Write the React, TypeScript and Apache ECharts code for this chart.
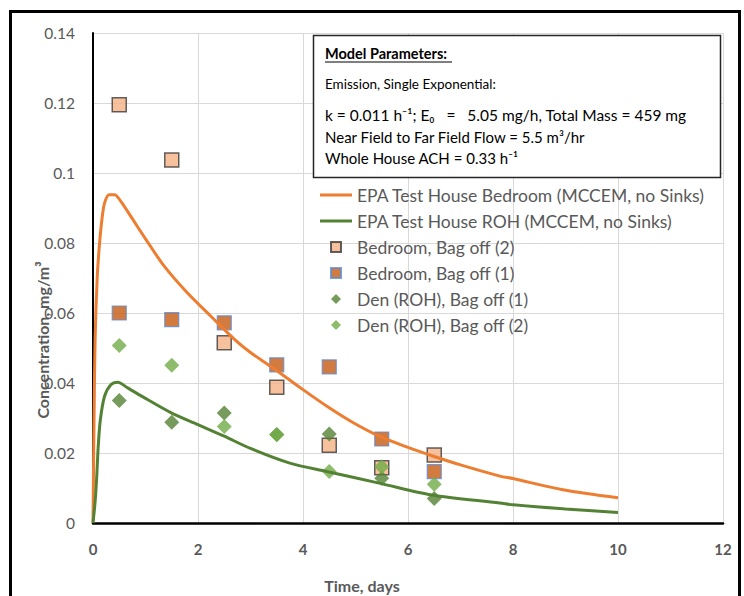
import React, { useEffect, useRef } from "react";
import * as echarts from "echarts";

const sampleDays = [0.5, 1.5, 2.5, 3.5, 4.5, 5.5, 6.5];
const bedroomBag2 = [0.1195, 0.1037, 0.0515, 0.0388, 0.0222, 0.0158, 0.0194];
const bedroomBag1 = [0.06, 0.0581, 0.0572, 0.0452, 0.0446, 0.024, 0.0147];
const denBag1 = [0.035, 0.0288, 0.0314, 0.0253, 0.0254, 0.0128, 0.007];
const denBag2 = [0.0507, 0.0451, 0.0276, 0.0252, 0.0147, 0.0161, 0.0111];

const bedroomModelT = [0, 0.02, 0.04, 0.08, 0.12, 0.17, 0.22, 0.31, 0.41, 0.53, 0.72, 1.0, 1.36, 1.8, 2.25, 2.7, 3.0, 3.43, 4.0, 4.5, 4.95, 5.45, 6.0, 6.5, 7.0, 7.75, 8.0, 8.95, 10];
const bedroomModelV = [0, 0.03, 0.0524, 0.07, 0.079, 0.0867, 0.0914, 0.0938, 0.0938, 0.0919, 0.0876, 0.0812, 0.0733, 0.0657, 0.059, 0.0524, 0.0487, 0.0443, 0.0381, 0.0329, 0.0287, 0.0248, 0.0216, 0.019, 0.0166, 0.0134, 0.0127, 0.0095, 0.0072];
const rohModelT = [0, 0.04, 0.07, 0.1, 0.14, 0.22, 0.34, 0.47, 0.66, 1.0, 1.5, 2.0, 2.5, 3.0, 3.75, 4.45, 5.45, 6.45, 7.75, 8.0, 9.0, 10];
const rohModelV = [0, 0.006, 0.013, 0.022, 0.0295, 0.0362, 0.0395, 0.0402, 0.0386, 0.0356, 0.0314, 0.0281, 0.0248, 0.0213, 0.0171, 0.0147, 0.0114, 0.008, 0.0057, 0.0052, 0.004, 0.003];

const xTicks = { min: 0, max: 12, interval: 2 };
const yTicks = { min: 0, max: 0.14, interval: 0.02 };

const seriesNames = [
  "EPA Test House Bedroom (MCCEM, no Sinks)",
  "EPA Test House ROH (MCCEM, no Sinks)",
  "Bedroom, Bag off (2)",
  "Bedroom, Bag off (1)",
  "Den (ROH), Bag off (1)",
  "Den (ROH), Bag off (2)",
];

const FONT = "Lato, 'Noto Sans', sans-serif";
const GRAY = "#595959";

const zip = (a: number[], b: number[]) => a.map((v, i) => [v, b[i]]);

export default function App() {
  const ref = useRef<HTMLDivElement>(null);
  useEffect(() => {
    document.body.style.margin = "0";
    if (!ref.current) return;
    const chart = echarts.init(ref.current, null, { renderer: "svg" });
    const squareIcon = "path://M0,0L10,0L10,10L0,10Z";
    const diamondIcon = "path://M5,0L10,5L5,10L0,5Z";
    const lineIcon = "path://M0,0L32,0L32,3L0,3Z";
    chart.setOption({
      animation: false,
      backgroundColor: "#ffffff",
      textStyle: { fontFamily: FONT },
      grid: { left: 93, top: 33, width: 630, height: 490, containLabel: false },
      xAxis: {
        type: "value",
        min: xTicks.min,
        max: xTicks.max,
        interval: xTicks.interval,
        axisLine: { show: true, lineStyle: { color: "#000", width: 2.5 } },
        axisTick: { show: false },
        axisLabel: { color: GRAY, fontSize: 15, fontWeight: "bold", margin: 18, fontFamily: FONT },
        splitLine: { show: true, lineStyle: { color: "#d9d9d9", width: 1 } },
      },
      yAxis: {
        type: "value",
        min: yTicks.min,
        max: yTicks.max,
        interval: yTicks.interval,
        axisLine: { show: true, onZero: false, lineStyle: { color: "#000", width: 2 } },
        axisTick: { show: false },
        axisLabel: { color: GRAY, fontSize: 15.5, margin: 18, fontFamily: FONT },
        splitLine: { show: true, lineStyle: { color: "#d9d9d9", width: 1 } },
      },
      legend: {
        orient: "vertical",
        left: 320,
        top: 186,
        padding: 0,
        itemWidth: 32,
        itemHeight: 10,
        itemGap: 8,
        textStyle: { color: GRAY, fontSize: 17.5, fontFamily: FONT, lineHeight: 18 },
        data: [
          { name: seriesNames[0], icon: lineIcon },
          { name: seriesNames[1], icon: lineIcon },
          { name: seriesNames[2], icon: squareIcon },
          { name: seriesNames[3], icon: squareIcon },
          { name: seriesNames[4], icon: diamondIcon },
          { name: seriesNames[5], icon: diamondIcon },
        ],
      },
      series: [
        {
          name: seriesNames[0],
          type: "line",
          data: zip(bedroomModelT, bedroomModelV),
          showSymbol: false,
          symbol: "none",
          smooth: 0.3,
          lineStyle: { color: "#ED7D31", width: 3 },
          itemStyle: { color: "#ED7D31" },
        },
        {
          name: seriesNames[1],
          type: "line",
          data: zip(rohModelT, rohModelV),
          showSymbol: false,
          symbol: "none",
          smooth: 0.3,
          lineStyle: { color: "#548235", width: 3 },
          itemStyle: { color: "#548235" },
        },
        {
          name: seriesNames[2],
          type: "scatter",
          data: zip(sampleDays, bedroomBag2),
          symbol: "rect",
          symbolSize: 14,
          itemStyle: { color: "#F4B183", borderColor: "#3a3a3a", borderWidth: 1.5 },
        },
        {
          name: seriesNames[3],
          type: "scatter",
          data: zip(sampleDays, bedroomBag1),
          symbol: "rect",
          symbolSize: 14,
          itemStyle: { color: "#C55A11", borderColor: "#5B8BD6", borderWidth: 1.2 },
        },
        {
          name: seriesNames[4],
          type: "scatter",
          data: zip(sampleDays, denBag1),
          symbol: "diamond",
          symbolSize: 15,
          itemStyle: { color: "#548235" },
        },
        {
          name: seriesNames[5],
          type: "scatter",
          data: zip(sampleDays, denBag2),
          symbol: "diamond",
          symbolSize: 15,
          itemStyle: { color: "#70AD47" },
        },
      ],
      graphic: [
        {
          type: "rect",
          z: 100,
          shape: { x: 10.5, y: 11.5, width: 729, height: 600 },
          style: { fill: "none", stroke: "#000", lineWidth: 3 },
          silent: true,
        },
        {
          type: "group",
          z: 100,
          children: [
            {
              type: "rect",
              z: 100,
              shape: { x: 313.5, y: 35.5, width: 407, height: 142 },
              style: { fill: "#ffffff", stroke: "#262626", lineWidth: 1.5 },
            },
            {
              type: "text",
              z: 101,
              x: 325,
              y: 53,
              style: { text: "Model Parameters:", fill: "#000", font: `bold 14.5px ${FONT}`, verticalAlign: "middle" },
            },
            {
              type: "line",
              z: 101,
              shape: { x1: 325, y1: 62, x2: 452, y2: 62 },
              style: { stroke: "#000", lineWidth: 1 },
            },
            {
              type: "text",
              z: 101,
              x: 325,
              y: 84,
              style: { text: "Emission, Single Exponential:", fill: "#000", font: `13.5px ${FONT}`, verticalAlign: "middle" },
            },
            {
              type: "text",
              z: 101,
              x: 325,
              y: 115,
              style: { text: "k = 0.011 h\u207B\u00B9; E\u2080   =   5.05 mg/h, Total Mass = 459 mg", fill: "#000", font: `15.5px ${FONT}`, verticalAlign: "middle" },
            },
            {
              type: "text",
              z: 101,
              x: 325,
              y: 137,
              style: { text: "Near Field to Far Field Flow = 5.5 m\u00B3/hr", fill: "#000", font: `15px ${FONT}`, verticalAlign: "middle" },
            },
            {
              type: "text",
              z: 101,
              x: 325,
              y: 158,
              style: { text: "Whole House ACH = 0.33 h\u207B\u00B9", fill: "#000", font: `15px ${FONT}`, verticalAlign: "middle" },
            },
          ],
        },
        {
          type: "text",
          x: 42,
          y: 340,
          rotation: Math.PI / 2,
          style: { text: "Concentration, mg/m\u00B3", fill: GRAY, font: `bold 16px ${FONT}`, align: "center", verticalAlign: "middle" },
        },
        {
          type: "text",
          x: 362,
          y: 585,
          style: { text: "Time, days", fill: GRAY, font: `bold 16px ${FONT}`, align: "center", verticalAlign: "middle" },
        },
      ],
    });
    return () => chart.dispose();
  }, []);
  return <div ref={ref} style={{ width: 744, height: 596 }} />;
}
